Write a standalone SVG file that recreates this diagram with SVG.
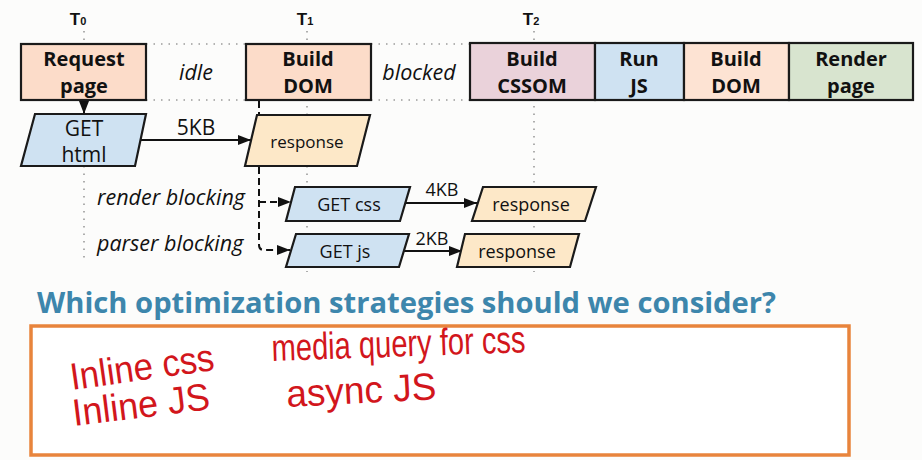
<svg xmlns="http://www.w3.org/2000/svg" width="922" height="460" viewBox="0 0 922 460">
<defs>
<marker id="ah" markerUnits="userSpaceOnUse" markerWidth="14" markerHeight="10" refX="13" refY="5" orient="auto">
<path d="M0,0 L13,5 L0,10 z" fill="#111"/>
</marker>
<style>
.box{stroke:#1a1a1a;stroke-width:2.2}
.peach{fill:#fcdcc9}
.pink{fill:#ead2da}
.blue{fill:#cfe2f2}
.peach2{fill:#fde3d3}
.green{fill:#d8e4cf}
.resp{fill:#fde8c8}
.bt{font-family:"Open Sans","Noto Sans",sans-serif;font-weight:bold;font-size:20px;fill:#111;text-anchor:middle}
.nt{font-family:"Open Sans","Noto Sans",sans-serif;fill:#111;text-anchor:middle}
.it{font-family:"Open Sans","Noto Sans",sans-serif;font-style:italic;font-size:21.5px;fill:#111}
.lb{font-family:"Open Sans","Noto Sans",sans-serif;fill:#111;text-anchor:middle}
.tl{font-family:"Liberation Sans",sans-serif;font-weight:bold;font-size:17px;fill:#111;text-anchor:middle}
.dot{stroke:#9a9a9a;stroke-width:1.6;stroke-dasharray:1.5 6;fill:none}
.ln{stroke:#111;stroke-width:2;fill:none}
.dash{stroke:#111;stroke-width:2;stroke-dasharray:7 4;fill:none}
.hw{font-family:"Liberation Sans Narrow","Liberation Sans",sans-serif;font-size:38px;fill:#d2161c}
</style>
</defs>
<rect width="922" height="460" fill="#fcfcfb"/>

<g id="timeline">
<text class="tl" x="78" y="25">T<tspan style="font-size:11px">0</tspan></text>
<text class="tl" x="305" y="25">T<tspan style="font-size:11px">1</tspan></text>
<text class="tl" x="531" y="25">T<tspan style="font-size:11px">2</tspan></text>
<line class="dot" x1="84" y1="31" x2="84" y2="262"/>
<line class="dot" x1="307" y1="31" x2="307" y2="272"/>
<line class="dot" x1="534" y1="31" x2="534" y2="272"/>
<line class="dot" x1="146" y1="44" x2="246" y2="44"/>
<line class="dot" x1="146" y1="100" x2="246" y2="100"/>
<line class="dot" x1="371" y1="44" x2="470" y2="44"/>
<line class="dot" x1="371" y1="100" x2="470" y2="100"/>
<text class="it" x="196" y="80" text-anchor="middle">idle</text>
<text class="it" x="419" y="80" text-anchor="middle">blocked</text>
</g>

<g id="connectors">
<line class="ln" x1="84" y1="100" x2="84" y2="114" marker-end="url(#ah)"/>
<line class="ln" x1="141" y1="140" x2="251" y2="140" marker-end="url(#ah)"/>
<text class="lb" x="196" y="135" style="font-size:21px">5KB</text>
<path class="dash" d="M259,101 L259,245 Q259,250 264,250 L290,250" marker-end="url(#ah)"/>
<path class="dash" d="M259,202 L291,202" marker-end="url(#ah)"/>
<line class="ln" x1="405" y1="203" x2="477" y2="203" marker-end="url(#ah)"/>
<text class="lb" x="442" y="196" style="font-size:18px">4KB</text>
<line class="ln" x1="404" y1="251" x2="462" y2="251" marker-end="url(#ah)"/>
<text class="lb" x="432" y="245" style="font-size:18px">2KB</text>
<text class="it" x="97" y="205">render blocking</text>
<text class="it" x="97" y="251">parser blocking</text>
</g>

<g id="request-page">
<rect class="box peach" x="21" y="44" width="125" height="56"/>
<text class="bt" x="84" y="66">Request</text>
<text class="bt" x="84" y="93">page</text>
</g>
<g id="build-dom-1">
<rect class="box peach" x="246" y="44" width="125" height="56"/>
<text class="bt" x="308" y="66">Build</text>
<text class="bt" x="308" y="93">DOM</text>
</g>
<g id="build-cssom">
<rect class="box pink" x="470" y="43" width="125" height="57"/>
<text class="bt" x="532" y="66">Build</text>
<text class="bt" x="532" y="93">CSSOM</text>
</g>
<g id="run-js">
<rect class="box blue" x="595" y="43" width="89" height="57"/>
<text class="bt" x="639" y="66">Run</text>
<text class="bt" x="639" y="93">JS</text>
</g>
<g id="build-dom-2">
<rect class="box peach2" x="684" y="43" width="105" height="57"/>
<text class="bt" x="736" y="66">Build</text>
<text class="bt" x="736" y="93">DOM</text>
</g>
<g id="render-page">
<rect class="box green" x="789" y="43" width="124" height="57"/>
<text class="bt" x="851" y="66">Render</text>
<text class="bt" x="851" y="93">page</text>
</g>

<g id="get-html">
<polygon class="box blue" points="35,114 146,114 135,166 21,166"/>
<text class="nt" x="84" y="136" style="font-size:21px">GET</text>
<text class="nt" x="84" y="162" style="font-size:21px">html</text>
</g>
<g id="response-html">
<polygon class="box resp" points="257,115 370,115 357,166 245,166"/>
<text class="nt" x="307" y="148" style="font-size:17px">response</text>
</g>
<g id="get-css">
<polygon class="box blue" points="295,187 410,187 400,221 286,221"/>
<text class="nt" x="349" y="211" style="font-size:18px">GET css</text>
</g>
<g id="response-css">
<polygon class="box resp" points="483,187 596,187 585,221 472,221"/>
<text class="nt" x="531" y="211" style="font-size:18px">response</text>
</g>
<g id="get-js">
<polygon class="box blue" points="296,234 409,234 399,267 286,267"/>
<text class="nt" x="345" y="258" style="font-size:18px">GET js</text>
</g>
<g id="response-js">
<polygon class="box resp" points="465,234 579,234 570,267 457,267"/>
<text class="nt" x="517" y="258" style="font-size:18px">response</text>
</g>

<g id="question">
<text x="37" y="313" font-family="'Open Sans','Noto Sans',sans-serif" font-weight="bold" font-size="29" fill="#3d86ac" textLength="739" lengthAdjust="spacingAndGlyphs">Which optimization strategies should we consider?</text>
<rect x="31" y="326" width="818" height="129" fill="#ffffff" stroke="#e8843c" stroke-width="3.5"/>
<text class="hw" x="72" y="390" transform="rotate(-8 72 390)" textLength="145" lengthAdjust="spacingAndGlyphs">Inline css</text>
<text class="hw" x="74" y="426" transform="rotate(-7 74 426)" textLength="138" lengthAdjust="spacingAndGlyphs">Inline JS</text>
<text class="hw" x="272" y="361" transform="rotate(-2 272 361)" textLength="254" lengthAdjust="spacingAndGlyphs">media query for css</text>
<text class="hw" x="287" y="407" transform="rotate(-3 287 407)" textLength="150" lengthAdjust="spacingAndGlyphs">async JS</text>
</g>
</svg>
